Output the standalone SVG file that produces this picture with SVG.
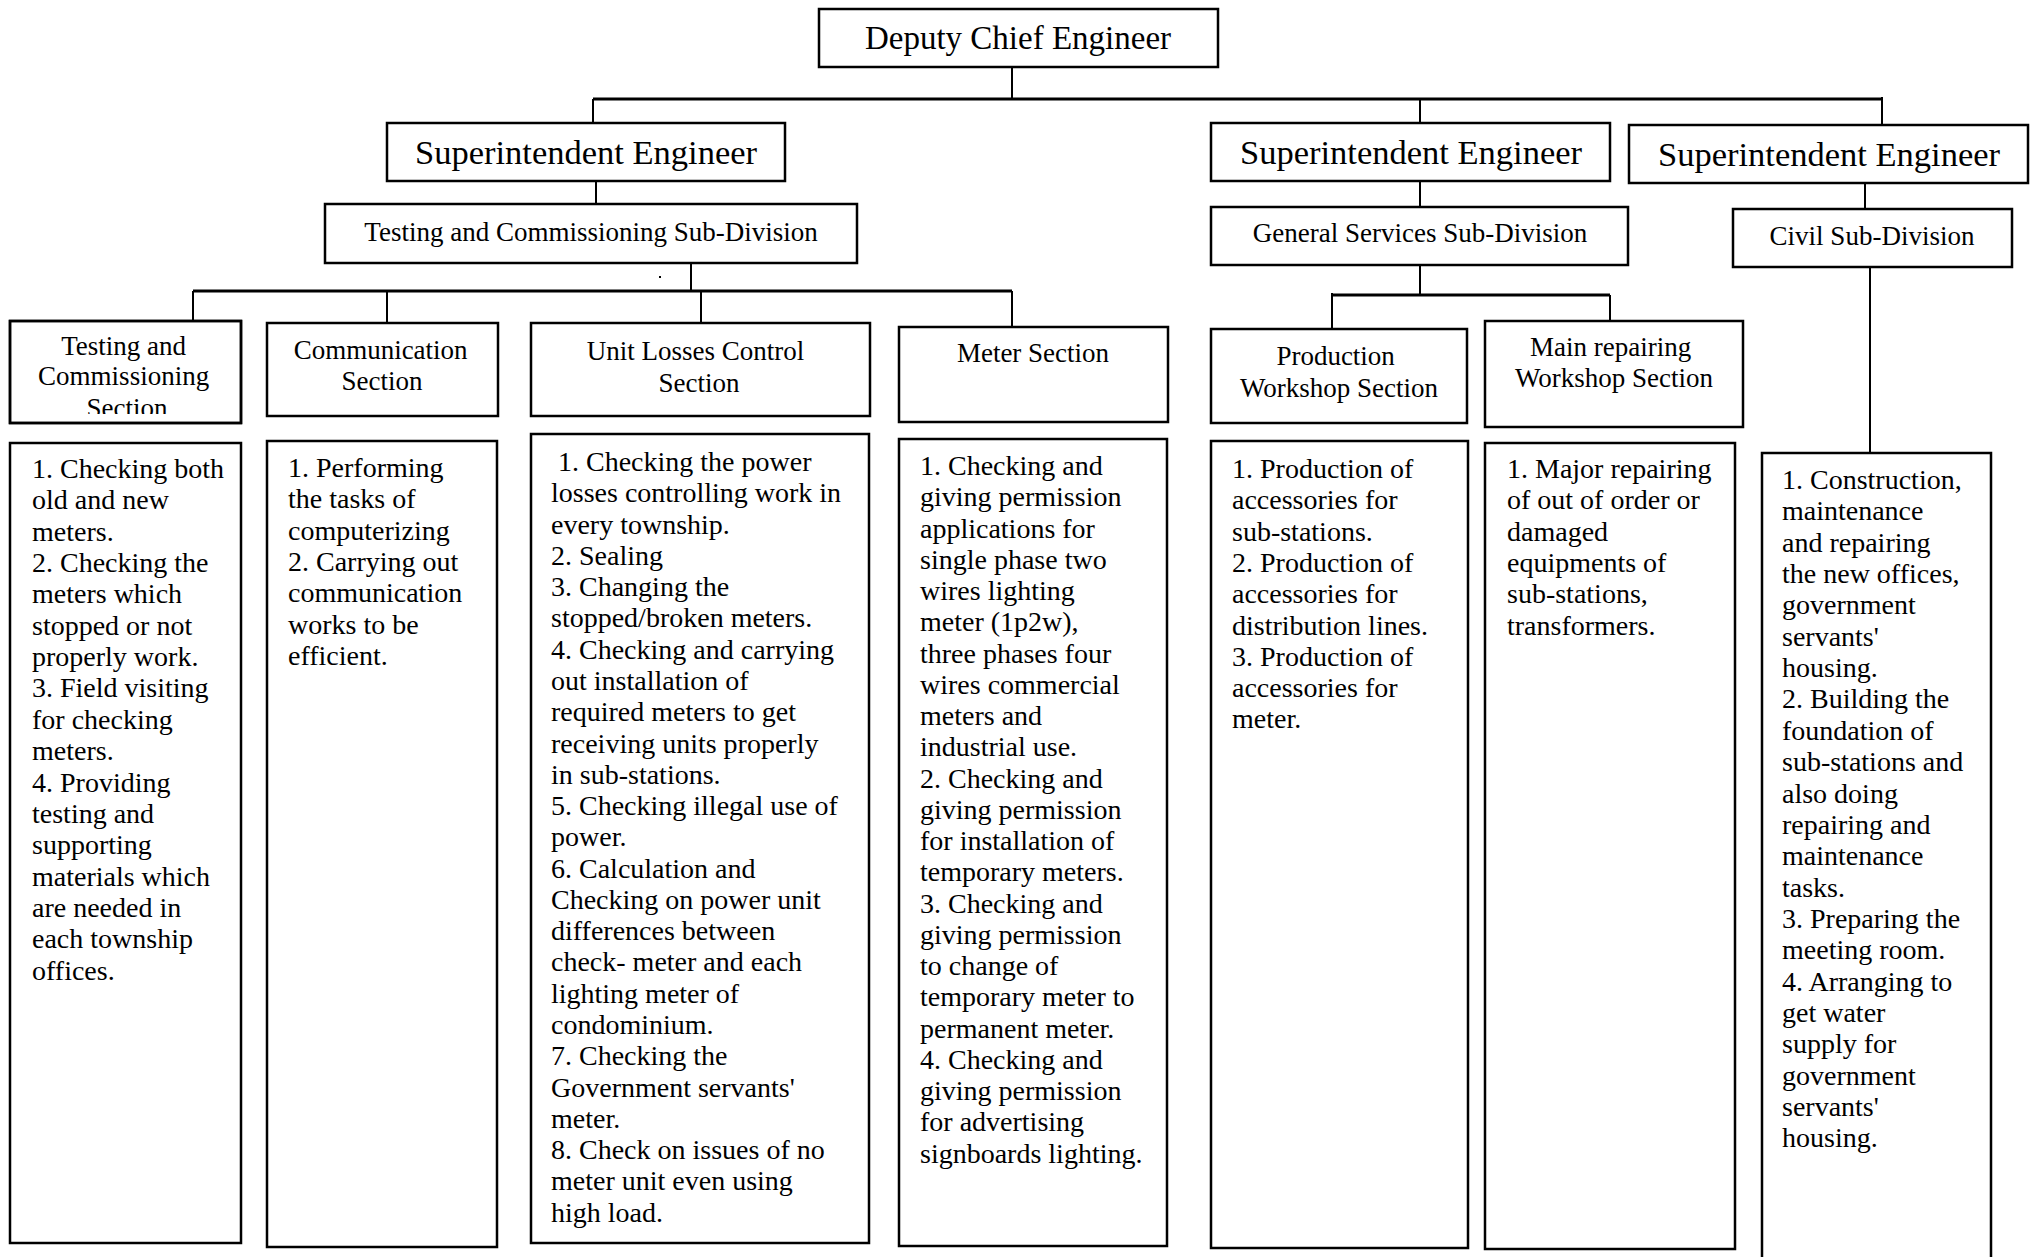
<svg xmlns="http://www.w3.org/2000/svg" width="2033" height="1257" viewBox="0 0 2033 1257">
  <style>
    .box { fill: #ffffff; stroke: #000000; stroke-width: 2.5; }
    .frame { fill: none; stroke: #000000; stroke-width: 2.5; }
    .link { stroke: #000000; stroke-width: 2; fill: none; }
    .bar { stroke: #000000; stroke-width: 3; fill: none; }
    .title { font-family: "Liberation Serif", "Times New Roman", serif; fill: #000000; text-anchor: middle; }
    .t33 { font-size: 33px; }
    .t34 { font-size: 34.5px; }
    .t27 { font-size: 27px; }
    .body { font-family: "Liberation Serif", "Times New Roman", serif; font-size: 28px; fill: #000000; }
  </style>
  <defs>
    <clipPath id="clipTestingHead">
      <rect x="10" y="321" width="231" height="93"/>
    </clipPath>
  </defs>

  <rect x="0" y="0" width="2033" height="1257" fill="#ffffff"/>

  <!-- connectors -->
  <g id="connectors">
    <line class="link" x1="1012" y1="67" x2="1012" y2="99"/>
    <line class="bar" x1="593" y1="99" x2="1882" y2="99"/>
    <line class="link" x1="593" y1="99" x2="593" y2="123"/>
    <line class="link" x1="1420" y1="99" x2="1420" y2="123"/>
    <line class="link" x1="1882" y1="97" x2="1882" y2="125"/>

    <line class="link" x1="596" y1="181" x2="596" y2="204"/>
    <line class="link" x1="691" y1="263" x2="691" y2="291"/>
    <line class="bar" x1="193" y1="291" x2="1012" y2="291"/>
    <line class="link" x1="193" y1="291" x2="193" y2="321"/>
    <line class="link" x1="387" y1="291" x2="387" y2="323"/>
    <line class="link" x1="701" y1="291" x2="701" y2="323"/>
    <line class="link" x1="1012" y1="291" x2="1012" y2="327"/>
    <rect x="659" y="276" width="2" height="2" fill="#000000"/>

    <line class="link" x1="1420" y1="181" x2="1420" y2="207"/>
    <line class="link" x1="1420" y1="265" x2="1420" y2="295"/>
    <line class="bar" x1="1332" y1="295" x2="1610" y2="295"/>
    <line class="link" x1="1332" y1="293" x2="1332" y2="329"/>
    <line class="link" x1="1610" y1="295" x2="1610" y2="321"/>

    <line class="link" x1="1865" y1="183" x2="1865" y2="209"/>
    <line class="link" x1="1870" y1="267" x2="1870" y2="453"/>
  </g>

  <!-- top level -->
  <g id="deputy-chief-engineer">
    <rect class="box" x="819" y="9" width="399" height="58"/>
    <text class="title t33" x="1018" y="49">Deputy Chief Engineer</text>
  </g>

  <!-- superintendents -->
  <g id="superintendent-1">
    <rect class="box" x="387" y="123" width="398" height="58"/>
    <text class="title t34" x="586" y="164">Superintendent Engineer</text>
  </g>
  <g id="superintendent-2">
    <rect class="box" x="1211" y="123" width="399" height="58"/>
    <text class="title t34" x="1411" y="164">Superintendent Engineer</text>
  </g>
  <g id="superintendent-3">
    <rect class="box" x="1629" y="125" width="399" height="58"/>
    <text class="title t34" x="1829" y="166">Superintendent Engineer</text>
  </g>

  <!-- sub-divisions -->
  <g id="testing-commissioning-subdivision">
    <rect class="box" x="325" y="204" width="532" height="59"/>
    <text class="title t27" x="591" y="241">Testing and Commissioning Sub-Division</text>
  </g>
  <g id="general-services-subdivision">
    <rect class="box" x="1211" y="207" width="417" height="58"/>
    <text class="title t27" x="1420" y="242">General Services Sub-Division</text>
  </g>
  <g id="civil-subdivision">
    <rect class="box" x="1733" y="209" width="279" height="58"/>
    <text class="title t27" x="1872" y="245">Civil Sub-Division</text>
  </g>

  <!-- sections -->
  <g id="testing-commissioning-section">
    <rect class="box" x="10" y="321" width="231" height="102"/>
    <text class="title t27" clip-path="url(#clipTestingHead)">
      <tspan x="127" y="355">Testing and</tspan>
      <tspan x="127" y="385">Commissioning</tspan>
      <tspan x="127" y="417">Section</tspan>
    </text>
    <rect class="frame" x="10" y="321" width="231" height="102"/>
  </g>
  <g id="communication-section">
    <rect class="box" x="267" y="323" width="231" height="93"/>
    <text class="title t27">
      <tspan x="384" y="359">Communication</tspan>
      <tspan x="382" y="390">Section</tspan>
    </text>
  </g>
  <g id="unit-losses-control-section">
    <rect class="box" x="531" y="323" width="339" height="93"/>
    <text class="title t27">
      <tspan x="699" y="360">Unit Losses Control</tspan>
      <tspan x="699" y="392">Section</tspan>
    </text>
  </g>
  <g id="meter-section">
    <rect class="box" x="899" y="327" width="269" height="95"/>
    <text class="title t27" x="1033" y="362">Meter Section</text>
  </g>
  <g id="production-workshop-section">
    <rect class="box" x="1211" y="329" width="256" height="94"/>
    <text class="title t27">
      <tspan x="1339" y="365">Production</tspan>
      <tspan x="1339" y="397">Workshop Section</tspan>
    </text>
  </g>
  <g id="main-repairing-workshop-section">
    <rect class="box" x="1485" y="321" width="258" height="106"/>
    <text class="title t27">
      <tspan x="1614" y="356">Main repairing</tspan>
      <tspan x="1614" y="387">Workshop Section</tspan>
    </text>
  </g>

  <!-- duty lists -->
  <g id="testing-commissioning-duties">
    <rect class="box" x="10" y="443" width="231" height="800"/>
    <text class="body">
      <tspan x="32" y="478">1. Checking both</tspan>
      <tspan x="32" dy="31.35">old and new</tspan>
      <tspan x="32" dy="31.35">meters.</tspan>
      <tspan x="32" dy="31.35">2. Checking the</tspan>
      <tspan x="32" dy="31.35">meters which</tspan>
      <tspan x="32" dy="31.35">stopped or not</tspan>
      <tspan x="32" dy="31.35">properly work.</tspan>
      <tspan x="32" dy="31.35">3. Field visiting</tspan>
      <tspan x="32" dy="31.35">for checking</tspan>
      <tspan x="32" dy="31.35">meters.</tspan>
      <tspan x="32" dy="31.35">4. Providing</tspan>
      <tspan x="32" dy="31.35">testing and</tspan>
      <tspan x="32" dy="31.35">supporting</tspan>
      <tspan x="32" dy="31.35">materials which</tspan>
      <tspan x="32" dy="31.35">are needed in</tspan>
      <tspan x="32" dy="31.35">each township</tspan>
      <tspan x="32" dy="31.35">offices.</tspan>
    </text>
  </g>

  <g id="communication-duties">
    <rect class="box" x="267" y="441" width="230" height="806"/>
    <text class="body">
      <tspan x="288" y="477">1. Performing</tspan>
      <tspan x="288" dy="31.3">the tasks of</tspan>
      <tspan x="288" dy="31.3">computerizing</tspan>
      <tspan x="288" dy="31.3">2. Carrying out</tspan>
      <tspan x="288" dy="31.3">communication</tspan>
      <tspan x="288" dy="31.3">works to be</tspan>
      <tspan x="288" dy="31.3">efficient.</tspan>
    </text>
  </g>

  <g id="unit-losses-control-duties">
    <rect class="box" x="531" y="434" width="338" height="809"/>
    <text class="body">
      <tspan x="558" y="471">1. Checking the power</tspan>
      <tspan x="551" dy="31.28">losses controlling work in</tspan>
      <tspan x="551" dy="31.28">every township.</tspan>
      <tspan x="551" dy="31.28">2. Sealing</tspan>
      <tspan x="551" dy="31.28">3. Changing the</tspan>
      <tspan x="551" dy="31.28">stopped/broken meters.</tspan>
      <tspan x="551" dy="31.28">4. Checking and carrying</tspan>
      <tspan x="551" dy="31.28">out installation of</tspan>
      <tspan x="551" dy="31.28">required meters to get</tspan>
      <tspan x="551" dy="31.28">receiving units properly</tspan>
      <tspan x="551" dy="31.28">in sub-stations.</tspan>
      <tspan x="551" dy="31.28">5. Checking illegal use of</tspan>
      <tspan x="551" dy="31.28">power.</tspan>
      <tspan x="551" dy="31.28">6. Calculation and</tspan>
      <tspan x="551" dy="31.28">Checking on power unit</tspan>
      <tspan x="551" dy="31.28">differences between</tspan>
      <tspan x="551" dy="31.28">check- meter and each</tspan>
      <tspan x="551" dy="31.28">lighting meter of</tspan>
      <tspan x="551" dy="31.28">condominium.</tspan>
      <tspan x="551" dy="31.28">7. Checking the</tspan>
      <tspan x="551" dy="31.28">Government servants'</tspan>
      <tspan x="551" dy="31.28">meter.</tspan>
      <tspan x="551" dy="31.28">8. Check on issues of no</tspan>
      <tspan x="551" dy="31.28">meter unit even using</tspan>
      <tspan x="551" dy="31.28">high load.</tspan>
    </text>
  </g>

  <g id="meter-duties">
    <rect class="box" x="899" y="439" width="268" height="807"/>
    <text class="body">
      <tspan x="920" y="475">1. Checking and</tspan>
      <tspan x="920" dy="31.25">giving permission</tspan>
      <tspan x="920" dy="31.25">applications for</tspan>
      <tspan x="920" dy="31.25">single phase two</tspan>
      <tspan x="920" dy="31.25">wires lighting</tspan>
      <tspan x="920" dy="31.25">meter (1p2w),</tspan>
      <tspan x="920" dy="31.25">three phases four</tspan>
      <tspan x="920" dy="31.25">wires commercial</tspan>
      <tspan x="920" dy="31.25">meters and</tspan>
      <tspan x="920" dy="31.25">industrial use.</tspan>
      <tspan x="920" dy="31.25">2. Checking and</tspan>
      <tspan x="920" dy="31.25">giving permission</tspan>
      <tspan x="920" dy="31.25">for installation of</tspan>
      <tspan x="920" dy="31.25">temporary meters.</tspan>
      <tspan x="920" dy="31.25">3. Checking and</tspan>
      <tspan x="920" dy="31.25">giving permission</tspan>
      <tspan x="920" dy="31.25">to change of</tspan>
      <tspan x="920" dy="31.25">temporary meter to</tspan>
      <tspan x="920" dy="31.25">permanent meter.</tspan>
      <tspan x="920" dy="31.25">4. Checking and</tspan>
      <tspan x="920" dy="31.25">giving permission</tspan>
      <tspan x="920" dy="31.25">for advertising</tspan>
      <tspan x="920" dy="31.25">signboards lighting.</tspan>
    </text>
  </g>

  <g id="production-workshop-duties">
    <rect class="box" x="1211" y="441" width="257" height="807"/>
    <text class="body">
      <tspan x="1232" y="478">1. Production of</tspan>
      <tspan x="1232" dy="31.3">accessories for</tspan>
      <tspan x="1232" dy="31.3">sub-stations.</tspan>
      <tspan x="1232" dy="31.3">2. Production of</tspan>
      <tspan x="1232" dy="31.3">accessories for</tspan>
      <tspan x="1232" dy="31.3">distribution lines.</tspan>
      <tspan x="1232" dy="31.3">3. Production of</tspan>
      <tspan x="1232" dy="31.3">accessories for</tspan>
      <tspan x="1232" dy="31.3">meter.</tspan>
    </text>
  </g>

  <g id="main-repairing-workshop-duties">
    <rect class="box" x="1485" y="443" width="250" height="806"/>
    <text class="body">
      <tspan x="1507" y="478">1. Major repairing</tspan>
      <tspan x="1507" dy="31.3">of out of order or</tspan>
      <tspan x="1507" dy="31.3">damaged</tspan>
      <tspan x="1507" dy="31.3">equipments of</tspan>
      <tspan x="1507" dy="31.3">sub-stations,</tspan>
      <tspan x="1507" dy="31.3">transformers.</tspan>
    </text>
  </g>

  <g id="civil-duties">
    <path class="frame" d="M1762,1262 V453 H1991 V1262"/>
    <text class="body">
      <tspan x="1782" y="489">1. Construction,</tspan>
      <tspan x="1782" dy="31.35">maintenance</tspan>
      <tspan x="1782" dy="31.35">and repairing</tspan>
      <tspan x="1782" dy="31.35">the new offices,</tspan>
      <tspan x="1782" dy="31.35">government</tspan>
      <tspan x="1782" dy="31.35">servants'</tspan>
      <tspan x="1782" dy="31.35">housing.</tspan>
      <tspan x="1782" dy="31.35">2. Building the</tspan>
      <tspan x="1782" dy="31.35">foundation of</tspan>
      <tspan x="1782" dy="31.35">sub-stations and</tspan>
      <tspan x="1782" dy="31.35">also doing</tspan>
      <tspan x="1782" dy="31.35">repairing and</tspan>
      <tspan x="1782" dy="31.35">maintenance</tspan>
      <tspan x="1782" dy="31.35">tasks.</tspan>
      <tspan x="1782" dy="31.35">3. Preparing the</tspan>
      <tspan x="1782" dy="31.35">meeting room.</tspan>
      <tspan x="1782" dy="31.35">4. Arranging to</tspan>
      <tspan x="1782" dy="31.35">get water</tspan>
      <tspan x="1782" dy="31.35">supply for</tspan>
      <tspan x="1782" dy="31.35">government</tspan>
      <tspan x="1782" dy="31.35">servants'</tspan>
      <tspan x="1782" dy="31.35">housing.</tspan>
    </text>
  </g>
</svg>
